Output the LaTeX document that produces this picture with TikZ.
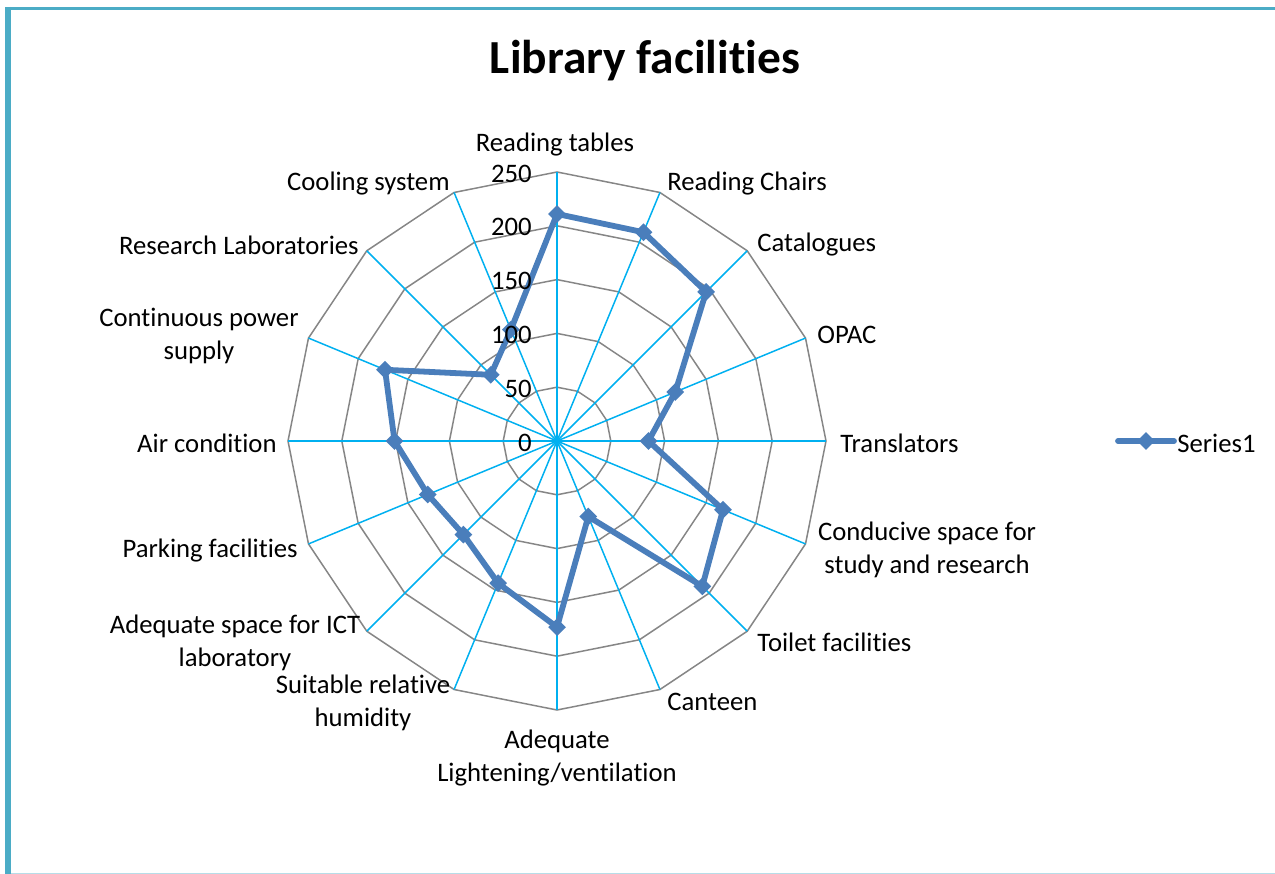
\documentclass[tikz,border=0pt]{standalone}
\usepackage{fontspec}
\setmainfont{Carlito}[Ligatures={NoCommon,NoContextual}]
\usetikzlibrary{calc,shapes.geometric,positioning}
\definecolor{seriesblue}{HTML}{4A7EBB}
\definecolor{spokecyan}{HTML}{00B0F0}
\definecolor{ringgray}{HTML}{868686}
\definecolor{framecyan}{HTML}{4BACC6}
\definecolor{framelight}{HTML}{B7DDE8}

\begin{document}
\begin{tikzpicture}[x=0.02cm,y=-0.02cm,
    ringline/.style={draw=ringgray,line width=0.85pt},
    spokeline/.style={draw=spokecyan,line width=0.85pt},
    seriesline/.style={draw=seriesblue,line width=3.3pt,line join=round,line cap=round},
    seriesmark/.style={diamond,fill=seriesblue,inner sep=0pt,minimum width=0.36cm,minimum height=0.36cm},
    catlabel/.style={font=\fontsize{15.2}{18.6}\selectfont,align=center,inner sep=0pt},
    ticklabel/.style={font=\fontsize{15.2}{18.6}\selectfont,anchor=east,inner sep=0pt}]
    \useasboundingbox (0,0) rectangle (1275,874);
    \draw[framecyan,line width=1.9pt] (5,8.3) -- (1275,8.3);
    \draw[framecyan,line width=3.4pt] (8,7) -- (8,874);
    \draw[framelight,line width=0.6pt] (11,873.5) -- (1275,873.5);

    \node[font=\fontsize{27}{32}\selectfont\bfseries,inner sep=0pt] (title) at (645,61) {Library facilities};

    \coordinate (O) at (557,441);
    \foreach \k in {1,...,5}
        \draw[ringline] ($(O)+(0,{-53.8*\k})$) \foreach \i in {1,...,15} {-- ($(O)+({53.8*\k*sin(\i*22.5)},{-53.8*\k*cos(\i*22.5)})$)} -- cycle;
    \foreach \i in {0,...,15} {
        \coordinate (S\i) at ($(O)+({269*sin(\i*22.5)},{-269*cos(\i*22.5)})$);
        \draw[spokeline] (O) -- (S\i);
    }

    \foreach \v [count=\i from 0] in {211,210,196,119,85,167,191,76,173,143,123,130,151,173,87,112}
        \coordinate (P\i) at ($(O)+({1.076*\v*sin(\i*22.5)},{-1.076*\v*cos(\i*22.5)})$);
    \draw[seriesline] (P0) \foreach \i in {1,...,15} {-- (P\i)} -- cycle;
    \foreach \i in {0,...,15}
        \node[seriesmark] (M\i) at (P\i) {};

    \foreach \t [count=\k from 0] in {0,50,...,250}
        \node[ticklabel] (T\k) at ($(O)+(-25,{1.5-53.8*\k})$) {\t};

    \node[catlabel] (reading) at (555,145) {Reading tables};
    \node[catlabel,anchor=west] (chairs) at (667,184) {Reading Chairs};
    \node[catlabel,anchor=west] (catalogues) at (757,245) {Catalogues};
    \node[catlabel,anchor=west] (opac) at (817,335) {OPAC};
    \node[catlabel,anchor=west] (translators) at (840,443) {Translators};
    \node[catlabel] (conducive) at (927,550) {Conducive space for\\study and research};
    \node[catlabel,anchor=west] (toilet) at (757,642) {Toilet facilities};
    \node[catlabel,anchor=west] (canteen) at (667,702) {Canteen};
    \node[catlabel] (lightening) at (557,758) {Adequate\\Lightening/ventilation};
    \node[catlabel] (humidity) at (363,703) {Suitable relative\\humidity};
    \node[catlabel] (ictlab) at (235,643) {Adequate space for ICT\\laboratory};
    \node[catlabel,anchor=east] (parking) at (298,551) {Parking facilities};
    \node[catlabel,anchor=east] (aircon) at (277,443) {Air condition};
    \node[catlabel] (power) at (199,336) {Continuous power\\supply};
    \node[catlabel,anchor=east] (research) at (359,245) {Research Laboratories};
    \node[catlabel,anchor=east] (cooling) at (450,184) {Cooling system};

    \coordinate (L1) at (1118,441);
    \coordinate (L2) at (1174,441);
    \draw[seriesline] (L1) -- (L2);
    \node[seriesmark] (legmark) at ($(L1)!0.5!(L2)$) {};
    \node[catlabel,anchor=west] (legend) at (1177,443) {Series1};
\end{tikzpicture}
\end{document}
